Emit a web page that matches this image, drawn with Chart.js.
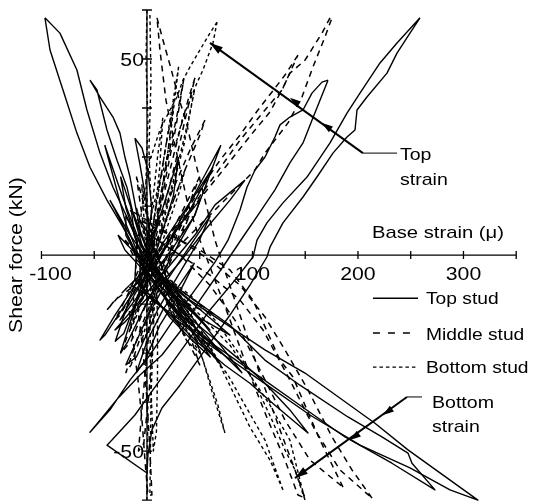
<!DOCTYPE html>
<html>
<head>
<meta charset="utf-8">
<script src="https://cdn.jsdelivr.net/npm/chart.js@4.4.1/dist/chart.umd.min.js"></script>
<style>
    html, body { margin: 0; padding: 0; background: #fff; }
    #wrap { width: 535px; height: 504px; position: relative; }
</style>
</head>
<body>
<div id="wrap"><canvas id="chart"></canvas></div>
<script>
// Base strain (micro) vs shear force (kN), one polyline per hysteresis loop

// Top stud (solid) - top strain loops
const topLoop1 = [[258.8,60.5],[237.0,54.1],[220.9,49.0],[201.9,41.3],[189.6,36.2],[173.5,28.6],[151.7,19.9],[128.9,13.3],[113.7,8.2],[104.3,3.8],[100.5,-0.5],[83.4,-6.4],[59.7,-14.0],[36.0,-23.0],[12.3,-31.9],[-11.4,-40.8],[-33.2,-47.2],[-37.9,-48.5],[0,-55.6],[0.9,-51.0],[4.7,-44.6],[14.2,-39.0],[31.3,-33.2],[55.0,-24.2],[78.7,-15.3],[97.6,-7.7],[113.7,-0.5],[116.6,2.0],[128.9,8.2],[147.9,14.8],[161.1,19.9],[176.3,26.0],[189.6,30.1],[197.2,31.9],[199.1,37.0],[208.5,40.3],[227.5,46.4],[237.0,51.5],[249.3,56.6],[258.8,60.5]];
const topLoop2 = [[171.6,44.6],[165.9,44.1],[156.4,41.3],[147.9,37.0],[135.5,35.2],[126.1,33.2],[121.3,30.1],[111.9,25.0],[102.4,21.7],[94.8,17.3],[88.2,11.5],[76.8,3.8],[64.5,-1.8],[45.5,-8.9],[21.8,-17.9],[2.8,-25.5],[-16.1,-31.9],[-35.1,-39.5],[-54.0,-45.2],[-44.5,-42.1],[-27.5,-36.5],[-6.6,-30.6],[14.2,-25.5],[36.0,-17.9],[50.2,-11.5],[73.0,-2.6],[91.0,4.6],[105.2,10.2],[121.3,16.6],[135.5,23.5],[147.9,28.6],[156.4,34.4],[164.0,39.5],[171.6,44.6]];
const topLoop3 = [[62.6,22.4],[45.5,15.3],[26.5,7.7],[7.6,0],[-11.4,-7.7],[-30.3,-15.3],[-44.5,-21.7],[-39.8,-20.4],[-20.9,-12.8],[2.8,-3.8],[21.8,3.8],[40.8,11.5],[62.6,22.4]];
const topLoop4 = [[92.9,19.1],[64.5,12.8],[45.5,5.1],[21.8,-2.6],[-1.9,-10.2],[-30.3,-19.1],[-20.9,-17.1],[7.6,-8.9],[31.3,-1.8],[55.0,6.4],[78.7,14.0],[92.9,19.1]];
const topLoop5 = [[50.2,14.0],[31.3,7.7],[12.3,0],[-6.6,-7.7],[-25.6,-16.6],[-11.4,-11.5],[7.6,-4.3],[26.5,2.6],[45.5,10.2],[50.2,14.0]];
const topLoop11 = [[30,25],[15,12],[0,0],[-15,-10],[-30,-22],[-22,-20],[-5,-8],[10,2],[25,15],[30,25]];
const topLoop12 = [[70,28],[50,18],[30,8],[10,-2],[-10,-12],[-25,-25],[-18,-22],[0,-12],[20,-2],[45,10],[70,28]];
const topLoop16 = [[60,10],[40,2],[20,-6],[0,-16],[-20,-28],[-10,-26],[10,-14],[30,-5],[50,4],[60,10]];
const topLoop18 = [[45,-2],[30,-8],[15,-14],[0,-22],[-10,-30],[-2,-27],[12,-18],[28,-11],[45,-2]];
// Top stud (solid) - bottom strain loops
const topLoop6 = [[-96.7,60.5],[-91.9,52.3],[-79.6,42.1],[-66.4,31.1],[-54.0,22.4],[-37.9,14.0],[-22.7,7.1],[-16.1,3.8],[-11.4,0],[31.3,-8.9],[78.7,-17.9],[111.8,-26.8],[145.0,-33.2],[190.5,-41.3],[222.7,-46.4],[247.4,-50.5],[251.2,-53.1],[273.0,-59.9],[232.2,-53.1],[187.7,-46.4],[145.0,-38.3],[97.6,-29.3],[50.2,-20.4],[12.3,-12.8],[-11.4,-6.4],[-9.5,3.8],[-19.0,9.7],[-32.2,17.3],[-44.5,26.0],[-56.9,37.0],[-66.4,47.2],[-82.5,56.6],[-96.7,60.5]];
const topLoop7 = [[-54.0,44.6],[-47.4,42.1],[-37.9,31.9],[-28.4,24.2],[-19.0,17.3],[-13.3,10.7],[-4.7,2.6],[12.3,-5.1],[40.8,-11.5],[111.8,-24.2],[149.8,-30.1],[216.1,-42.9],[247.4,-49.7],[313.7,-62.5],[287.2,-59.9],[249.3,-54.3],[201.9,-48.5],[154.5,-40.8],[107.1,-31.9],[59.7,-23.0],[21.8,-15.3],[-6.6,-7.7],[-6.6,6.4],[-16.1,19.9],[-20.9,25.0],[-25.6,31.1],[-32.2,35.2],[-44.5,40.3],[-54.0,44.6]];
const topLoop8 = [[-11.4,29.8],[-6.6,23.0],[-0.9,14.0],[2.8,3.8],[17.1,-5.0],[31.3,-14.0],[59.7,-20.4],[88.2,-26.8],[111.8,-32.7],[135.5,-39.5],[152.6,-45.4],[121.3,-38.3],[97.6,-32.7],[73.9,-28.1],[45.5,-21.7],[17.1,-14.0],[-6.6,-8.9],[4.7,11.5],[0.9,21.7],[-4.7,27.3],[-11.4,29.8]];
const topLoop9 = [[-35.1,14.0],[-16.1,5.1],[2.8,-1.8],[26.5,-8.9],[59.7,-19.1],[31.3,-11.5],[7.6,-5.1],[-11.4,1.3],[-30.3,11.5],[-35.1,14.0]];
const topLoop10 = [[-27.5,5.1],[-6.6,-0.8],[17.1,-6.4],[45.5,-12.8],[78.7,-20.4],[50.2,-16.1],[21.8,-10.2],[-1.9,-4.3],[-20.9,1.3],[-27.5,5.1]];
const topLoop13 = [[-25,20],[-10,8],[5,-2],[20,-8],[40,-15],[70,-25],[50,-20],[25,-12],[8,-6],[-8,2],[-20,12],[-25,20]];
const topLoop14 = [[-15,12],[0,2],[15,-6],[35,-12],[55,-18],[90,-30],[60,-22],[35,-16],[15,-10],[0,-4],[-12,5],[-15,12]];
const topLoop15 = [[-40,28],[-22,14],[-5,2],[12,-6],[30,-12],[45,-18],[30,-15],[12,-9],[-5,-2],[-20,8],[-40,28]];
const topLoop17 = [[-20,10],[0,0],[17,-8],[40,-16],[70,-28],[45,-20],[20,-12],[0,-5],[-20,5],[-20,10]];
const topLoop19 = [[-5,-2],[10,-8],[25,-14],[45,-20],[60,-26],[40,-21],[22,-16],[8,-11],[-5,-2]];

// Middle stud (dashed)
const midLoop1 = [[173.5,60.5],[165.9,56.6],[149.8,49.7],[135.5,46.4],[128.0,42.1],[111.9,37.0],[88.2,29.3],[64.5,20.4],[40.8,11.5],[17.1,2.6],[-6.6,-5.1],[-25.6,-10.2],[-37.9,-14.0],[-30.3,-11.5],[-11.4,-7.7],[12.3,-2.6],[36.0,3.8],[59.7,10.2],[83.4,16.6],[102.4,21.7],[111.9,26.0],[121.3,29.3],[133.7,33.7],[146.9,40.3],[157.4,48.0],[168.7,55.6],[175.4,60.5]];
const midLoop2 = [[143.1,51.0],[130.8,45.9],[118.5,41.6],[105.2,37.0],[88.2,30.6],[69.2,24.2],[50.2,16.6],[31.3,8.9],[12.3,1.3],[-6.6,-5.1],[-20.9,-8.9],[-11.4,-7.7],[7.6,-1.8],[26.5,5.1],[45.5,12.8],[64.5,19.1],[83.4,25.5],[102.4,31.9],[116.6,36.5],[128.9,42.6],[143.1,51.0]];
const midLoop3 = [[9.5,60.5],[15.2,54.8],[21.8,48.5],[29.4,40.8],[37.9,33.2],[45.5,24.2],[55.0,14.0],[64.5,3.8],[76.8,-6.4],[92.9,-19.1],[109.0,-31.9],[126.1,-44.6],[140.3,-54.8],[149.8,-62.0],[143.1,-61.2],[130.8,-52.3],[114.7,-42.1],[97.6,-30.6],[80.6,-17.9],[64.5,-6.4],[50.2,3.8],[37.9,14.0],[27.5,26.8],[18.0,39.5],[12.3,52.3],[9.5,60.5]];
const midLoop4 = [[213.3,-62.0],[194.3,-54.8],[175.4,-46.4],[152.6,-34.4],[130.8,-24.2],[111.9,-15.8],[88.2,-7.7],[59.7,-1.3],[31.3,3.8],[2.8,8.4],[-16.1,11.5],[2.8,5.1],[31.3,0],[59.7,-5.1],[88.2,-11.5],[110.0,-19.1],[135.5,-31.9],[159.2,-44.6],[182.9,-54.8],[213.3,-62.0]];
const midLoop5 = [[185.8,-59.2],[164.0,-47.2],[151.7,-39.5],[138.4,-31.1],[126.1,-26.8],[100.5,-11.5],[78.7,-3.8],[50.2,1.3],[21.8,5.1],[-6.6,8.9],[2.8,5.1],[31.3,0],[59.7,-7.7],[83.4,-16.6],[107.1,-29.3],[130.8,-42.1],[154.5,-52.3],[185.8,-59.2]];
const midLoop6 = [[55.0,34.4],[40.8,26.8],[26.5,17.9],[12.3,8.9],[-1.9,0],[-16.1,-8.9],[-30.3,-16.6],[-25.6,-15.3],[-6.6,-6.4],[7.6,2.6],[21.8,11.5],[36.0,21.7],[50.2,30.6],[55.0,34.4]];
const midLoop7 = [[45.5,45.2],[38.9,39.5],[31.3,31.9],[21.8,21.7],[12.3,11.5],[2.8,1.3],[-6.6,-8.9],[-1.9,-6.4],[7.6,3.8],[18.0,14.0],[27.5,24.2],[36.0,34.4],[45.5,45.2]];
const midLoop8 = [[-18.0,-11.5],[-13.3,-21.7],[-8.5,-31.9],[-4.7,-42.1],[-1.9,-52.3],[0.9,-61.2],[4.7,-61.2],[2.8,-49.7],[0,-37.0],[-3.8,-24.2],[-8.5,-14.0]];
const midLoop9 = [[-20.9,3.8],[2.8,-2.6],[31.3,-8.9],[64.5,-15.3],[40.8,-12.8],[12.3,-6.9],[-11.4,-0.8],[-20.9,3.8]];
const midLoop10 = [[35,45],[28,35],[20,25],[12,14],[5,4],[-3,-6],[-12,-14],[-6,-12],[2,-3],[10,8],[18,20],[27,32],[35,45]];
const midLoop11 = [[25,38],[18,28],[12,18],[6,8],[0,-2],[-8,-10],[-2,-8],[5,2],[12,12],[18,22],[25,38]];
const midLoop12 = [[-10,20],[0,10],[10,0],[25,-10],[40,-20],[50,-28],[35,-20],[20,-12],[8,-4],[-2,5],[-10,20]];
const midLoop13 = [[50,20],[35,12],[20,4],[5,-5],[-10,-15],[-25,-25],[-15,-22],[0,-12],[15,-3],[30,6],[50,20]];
const midLoop14 = [[40,10],[25,2],[10,-8],[-5,-18],[-20,-30],[-15,-28],[0,-16],[15,-6],[30,3],[40,10]];
const midLoop15 = [[5,-10],[0,-25],[-5,-40],[-8,-50],[-3,-48],[2,-35],[6,-20],[5,-10]];
const midLoop16 = [[0,6],[15,-2],[30,-10],[45,-18],[60,-25],[48,-22],[30,-14],[15,-7],[0,6]];

// Bottom stud (dotted)
const botLoop1 = [[66.4,59.4],[59.7,56.6],[50.2,52.3],[40.8,48.0],[34.1,44.6],[28.4,40.3],[21.8,37.0],[12.3,31.9],[2.8,24.2],[-3.8,14.0],[-8.5,3.8],[-11.4,-6.4],[-14.2,-16.6],[-9.5,-11.5],[-4.7,-1.3],[2.8,8.9],[12.3,19.1],[21.8,26.8],[28.4,29.3],[34.1,35.2],[40.8,39.5],[47.4,43.9],[53.1,47.2],[62.6,54.1],[66.4,59.4]];
const botLoop2 = [[0,62.5],[-0.9,49.7],[0.9,34.4],[-0.9,19.1],[1.9,3.8],[0,-11.5],[-0.9,-26.8],[0.9,-42.1],[0,-54.8],[0,-62.5]];
const botLoop3 = [[2.8,61.2],[3.8,44.6],[1.9,26.8],[4.7,6.4],[2.8,-16.6],[3.8,-37.0],[2.8,-61.2]];
const botLoop4 = [[73.9,-45.4],[67.3,-38.3],[57.8,-30.6],[48.3,-23.0],[36.0,-15.3],[21.8,-8.9],[7.6,-3.8],[12.3,-5.1],[29.4,-11.5],[42.7,-19.1],[53.1,-26.8],[62.6,-35.7],[73.9,-45.4]];
const botLoop5 = [[128.9,-59.9],[116.6,-52.3],[97.6,-43.9],[80.6,-34.4],[64.5,-25.5],[45.5,-16.6],[26.5,-10.2],[12.3,-5.1],[17.1,-7.7],[36.0,-15.3],[55.0,-23.0],[76.8,-30.6],[92.9,-38.3],[111.9,-47.2],[128.9,-59.9]];
const botLoop6 = [[149.8,-62.5],[140.3,-54.8],[130.8,-49.7],[118.5,-42.1],[105.2,-34.4],[88.2,-25.5],[64.5,-16.6],[40.8,-10.2],[21.8,-6.4],[26.5,-8.9],[55.0,-16.6],[78.7,-23.0],[97.6,-30.6],[116.6,-38.3],[135.5,-47.2],[149.8,-62.5]];
const botLoop7 = [[36.0,21.7],[21.8,11.5],[12.3,3.8],[2.8,-3.8],[-6.6,-11.5],[-16.1,-19.1],[-11.4,-16.6],[0.9,-7.7],[10.4,0],[19.9,7.7],[31.3,16.6],[36.0,21.7]];
const botLoop8 = [[30,48],[24,38],[18,28],[12,18],[6,8],[0,-2],[-6,-12],[-2,-10],[4,0],[10,10],[16,20],[22,30],[30,48]];
const botLoop9 = [[15,35],[10,25],[6,15],[2,5],[-2,-5],[-6,-12],[-1,-8],[4,2],[8,12],[12,22],[15,35]];
const botLoop10 = [[-5,18],[2,8],[10,-2],[22,-10],[35,-20],[25,-16],[12,-8],[4,0],[-3,10],[-5,18]];
const botLoop11 = [[45,42],[38,33],[30,24],[20,14],[10,4],[0,-6],[5,-2],[15,8],[25,18],[35,28],[45,42]];
const botLoop12 = [[-10,12],[5,0],[20,-10],[35,-18],[50,-25],[38,-22],[22,-14],[8,-5],[-10,12]];
const botLoop13 = [[8,-5],[6,-20],[4,-35],[6,-50],[9,-45],[10,-30],[10,-15],[8,-5]];
const botLoop14 = [[25,5],[15,-3],[5,-12],[-5,-22],[0,-20],[10,-10],[20,-2],[25,5]];

const topStud = [topLoop1, topLoop2, topLoop3, topLoop4, topLoop5, topLoop6, topLoop7, topLoop8, topLoop9, topLoop10, topLoop11, topLoop12, topLoop13, topLoop14, topLoop15, topLoop16, topLoop17, topLoop18, topLoop19];
const middleStud = [midLoop1, midLoop2, midLoop3, midLoop4, midLoop5, midLoop6, midLoop7, midLoop8, midLoop9, midLoop10, midLoop11, midLoop12, midLoop13, midLoop14, midLoop15, midLoop16];
const bottomStud = [botLoop1, botLoop2, botLoop3, botLoop4, botLoop5, botLoop6, botLoop7, botLoop8, botLoop9, botLoop10, botLoop11, botLoop12, botLoop13, botLoop14];

// Axis ticks
const xTicks = [-100, -50, 0, 50, 100, 150, 200, 250, 300, 350];
const xTickLabels = ['-100', '', '', '', '100', '', '200', '', '300', ''];
const yTicks = [-62.5, -50, -37.5, -25, -12.5, 0, 12.5, 25, 37.5, 50, 62.5];
const yTickLabels = ['', '-50', '', '', '', '', '', '', '', '50', ''];

// Annotation anchors (data units)
const notes = {
    topArrow: { from: [204.7, 26.0], to: [59.7, 54.1], tail: [237.0, 26.0], mids: [[135.5, 40.1], [165.9, 33.7]] },
    bottomArrow: { from: [246.4, -36.2], to: [140.3, -56.9], tail: [260.7, -36.2], mids: [[223.7, -40.8], [192.4, -47.2]] },
    topText: { x: 239.8, lines: [['Top', 24.2], ['strain', 17.9]] },
    bottomText: { x: 270.2, lines: [['Bottom', -39.0], ['strain', -45.2]] },
    xTitle: { text: 'Base strain (\u03bc)', x: 213.3, y: 4.3 },
    legend: { x0: 214.2, x1: 256.9, tx: 264.5, rows: [['Top stud', -11.0, -12.5, []], ['Middle stud', -19.9, -21.7, [7, 8]], ['Bottom stud', -28.6, -30.1, [3.5, 3]]] }
};

const FONT = '"Liberation Sans", Arial, Helvetica, sans-serif';

function drawText(ctx, str, x, y, size, align, sx, rot) {
    ctx.save();
    ctx.translate(x, y);
    if (rot) ctx.rotate(rot);
    ctx.scale(sx, 1);
    ctx.font = size + 'px ' + FONT;
    ctx.textAlign = align;
    ctx.textBaseline = 'alphabetic';
    ctx.fillStyle = '#000';
    ctx.fillText(str, 0, 0);
    ctx.restore();
}

function arrowHead(ctx, px, py, ang, len, wid) {
    ctx.save();
    ctx.translate(px, py);
    ctx.rotate(ang);
    ctx.beginPath();
    ctx.moveTo(0, 0);
    ctx.lineTo(-len, -wid / 2);
    ctx.lineTo(-len, wid / 2);
    ctx.closePath();
    ctx.fill();
    ctx.restore();
}

const axesPlugin = {
    id: 'crossAxes',
    beforeDatasetsDraw(chart) {
        const { ctx, scales: { x, y } } = chart;
        const ox = x.getPixelForValue(0), oy = y.getPixelForValue(0);
        ctx.save();
        ctx.strokeStyle = '#000';
        ctx.lineWidth = 1.3;
        ctx.beginPath();
        ctx.moveTo(x.getPixelForValue(-100), oy);
        ctx.lineTo(x.getPixelForValue(350), oy);
        ctx.moveTo(ox, y.getPixelForValue(62.5));
        ctx.lineTo(ox, y.getPixelForValue(-62.5));
        xTicks.forEach(v => {
            const px = x.getPixelForValue(v);
            ctx.moveTo(px, oy - 4);
            ctx.lineTo(px, oy + 4);
        });
        yTicks.forEach(v => {
            const py = y.getPixelForValue(v);
            ctx.moveTo(ox - 5, py);
            ctx.lineTo(ox + 5, py);
        });
        ctx.stroke();
        ctx.restore();
    },
    afterDatasetsDraw(chart) {
        const { ctx, scales: { x, y } } = chart;
        const ox = x.getPixelForValue(0), oy = y.getPixelForValue(0);
        const P = p => [x.getPixelForValue(p[0]), y.getPixelForValue(p[1])];

        // tick labels
        xTicks.forEach((v, i) => {
            if (!xTickLabels[i]) return;
            const shift = v < 0 ? 9 : 0;
            drawText(ctx, xTickLabels[i], x.getPixelForValue(v) + shift, oy + 25, 18, 'center', 1.18);
        });
        yTicks.forEach((v, i) => {
            if (!yTickLabels[i]) return;
            drawText(ctx, yTickLabels[i], ox - 3, y.getPixelForValue(v) + 7, 18, 'right', 1.18);
        });

        // axis titles
        drawText(ctx, 'Shear force (kN)', 22, oy, 18, 'center', 1.18, -Math.PI / 2);
        const xt = P([notes.xTitle.x, notes.xTitle.y]);
        drawText(ctx, notes.xTitle.text, xt[0], xt[1], 17, 'left', 1.19);

        // arrows
        ctx.save();
        ctx.fillStyle = '#000';
        ctx.strokeStyle = '#000';
        [notes.topArrow, notes.bottomArrow].forEach(a => {
            const f = P(a.from), t = P(a.to), tl = P(a.tail);
            const ang = Math.atan2(t[1] - f[1], t[0] - f[0]);
            ctx.lineWidth = 1;
            ctx.beginPath();
            ctx.moveTo(f[0], f[1]);
            ctx.lineTo(tl[0], tl[1]);
            ctx.stroke();
            ctx.lineWidth = 2;
            ctx.beginPath();
            ctx.moveTo(f[0], f[1]);
            ctx.lineTo(t[0], t[1]);
            ctx.stroke();
            arrowHead(ctx, t[0], t[1], ang, 13, 8);
            a.mids.forEach(m => {
                const mp = P(m);
                arrowHead(ctx, mp[0], mp[1], ang, 11, 7);
            });
        });
        ctx.restore();

        [notes.topText, notes.bottomText].forEach(n => {
            n.lines.forEach(([s, yy]) => {
                const p = P([n.x, yy]);
                drawText(ctx, s, p[0], p[1], 17, 'left', 1.15);
            });
        });

        // legend
        const lg = notes.legend;
        ctx.save();
        ctx.strokeStyle = '#000';
        lg.rows.forEach(([label, ly, ty, dash]) => {
            const a = P([lg.x0, ly]), b = P([lg.x1, ly]);
            ctx.lineWidth = dash.length ? 1.4 : 1.5;
            ctx.setLineDash(dash);
            ctx.beginPath();
            ctx.moveTo(a[0], a[1]);
            ctx.lineTo(b[0], b[1]);
            ctx.stroke();
            const tp = P([lg.tx, ty]);
            drawText(ctx, label, tp[0], tp[1], 17, 'left', 1.13);
        });
        ctx.restore();
    }
};

function makeSets(curves, dash, width) {
    return curves.map(c => ({
        data: c.map(([vx, vy]) => ({ x: vx, y: vy })),
        borderColor: '#000',
        borderWidth: width,
        borderDash: dash,
        borderJoinStyle: 'round',
        pointRadius: 0,
        showLine: true,
        fill: false,
        tension: 0
    }));
}

const datasets = [].concat(
    makeSets(bottomStud, [3.5, 3], 1.4),
    makeSets(middleStud, [6, 5], 1.5),
    makeSets(topStud, [], 1.4)
);

new Chart(document.getElementById('chart'), {
    type: 'scatter',
    data: { datasets },
    options: {
        responsive: true,
        maintainAspectRatio: false,
        animation: false,
        layout: { padding: 0 },
        plugins: { legend: { display: false }, tooltip: { enabled: false } },
        scales: {
            x: { type: 'linear', min: -139.3, max: 367.8, display: false },
            y: { type: 'linear', min: -63.5, max: 65.05, display: false }
        }
    },
    plugins: [axesPlugin]
});
</script>
</body>
</html>
